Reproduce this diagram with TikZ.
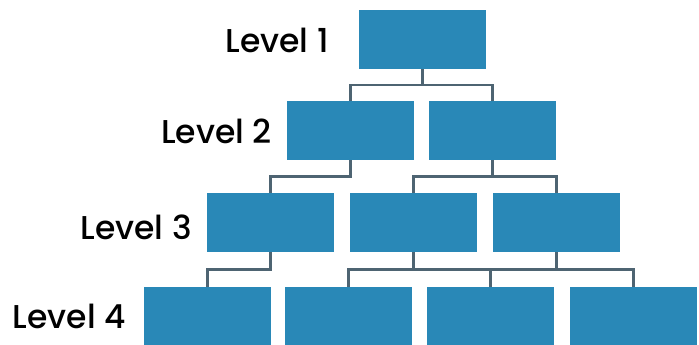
\documentclass[tikz,border=0pt]{standalone}
\usepackage{fontspec}
\setmainfont{Poppins}[UprightFont=* Medium]
\usetikzlibrary{calc}
\definecolor{boxblue}{HTML}{2988B7}
\definecolor{linkgray}{HTML}{4E6472}
\begin{document}
\begin{tikzpicture}[x=1pt,y=-1pt,
  orgbox/.style={fill=boxblue,draw=none,minimum width=127pt,minimum height=59pt,inner sep=0pt},
  lvl/.style={anchor=base east,inner sep=0pt,font=\fontsize{33}{33}\selectfont,text=black},
  link/.style={draw=linkgray,line width=2.2pt}]
\useasboundingbox (0,0) rectangle (699,345);
\node[orgbox] (a) at (422.5,39.5) {};
\node[orgbox] (b1) at (350.5,130.5) {};
\node[orgbox] (b2) at (492.5,130.5) {};
\node[orgbox] (c1) at (270.5,222.5) {};
\node[orgbox] (c2) at (413.5,222.5) {};
\node[orgbox] (c3) at (556.5,222.5) {};
\node[orgbox] (d1) at (207.5,316.5) {};
\node[orgbox] (d2) at (348.5,316.5) {};
\node[orgbox] (d3) at (490.5,316.5) {};
\node[orgbox] (d4) at (633.5,316.5) {};
\node[lvl] (t1) at (329,53) {Level 1};
\node[lvl] (t2) at (272,143) {Level 2};
\node[lvl] (t3) at (192,239) {Level 3};
\node[lvl] (t4) at (126,328) {Level 4};
\foreach \p/\c in {a/b1,a/b2,b1/c1,b2/c2,b2/c3,c1/d1,c2/d2,c2/d3,c3/d3,c3/d4}
  \draw[link] (\p.south) |- ($(\p.south)!.5!(\c.north)$) -| (\c.north);
\end{tikzpicture}
\end{document}
